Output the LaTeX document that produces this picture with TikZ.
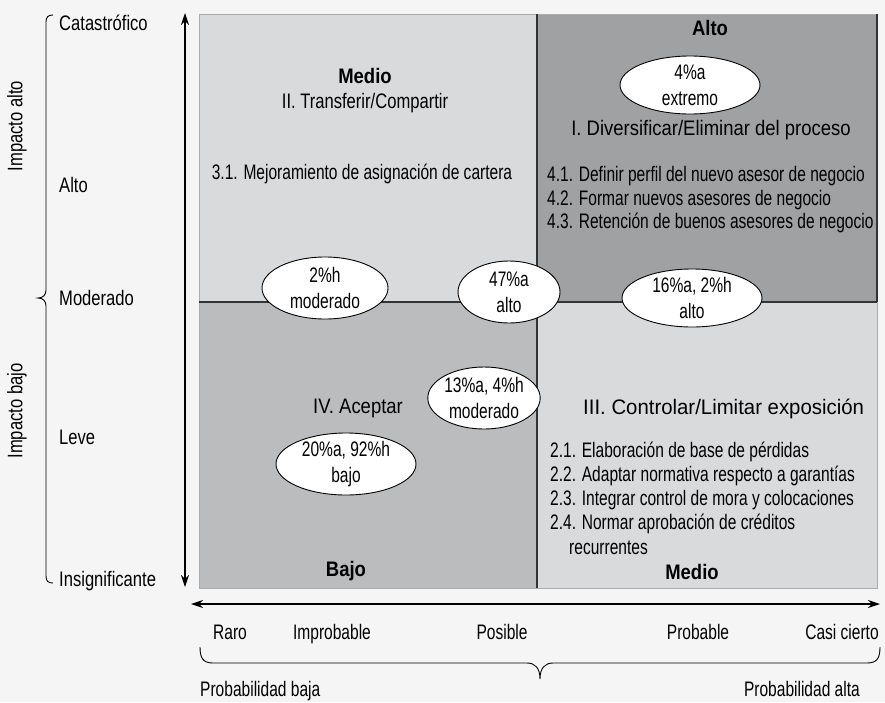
\documentclass[tikz,border=0pt]{standalone}
\usepackage{fontspec}
\setmainfont{Liberation Sans}[FakeStretch=0.76]
\newfontfamily\narrowf{Liberation Sans}[FakeStretch=0.74]
\newfontfamily\midf{Liberation Sans}[FakeStretch=0.79]
\newfontfamily\semif{Liberation Sans}[FakeStretch=0.88]
\newfontfamily\widef{Liberation Sans}[FakeStretch=0.97]
\usetikzlibrary{arrows.meta,shapes.geometric}
\definecolor{bgc}{HTML}{F5F5F5}
\definecolor{qlight}{HTML}{D9DADC}
\definecolor{qdark}{HTML}{A0A1A3}
\definecolor{qmid}{HTML}{BBBCBE}
\definecolor{linec}{HTML}{333333}
\begin{document}
\begin{tikzpicture}[x=1pt,y=-1pt,
  txt/.style={font=\narrowf\fontsize{21}{24}\selectfont, inner sep=0pt},
  lbl/.style={font=\midf\fontsize{21}{24}\selectfont, inner sep=0pt},
  semitxt/.style={font=\semif\fontsize{21}{24}\selectfont, inner sep=0pt},
  widetxt/.style={font=\widef\fontsize{21}{24}\selectfont, inner sep=0pt},
  boldtxt/.style={font=\semif\bfseries\fontsize{21}{24}\selectfont, inner sep=0pt},
  oval/.style={ellipse, draw=black, line width=0.9pt, fill=white, minimum width=#1,
    minimum height=62pt, inner xsep=0pt, inner ysep=-8pt, align=center,
    font=\narrowf\fontsize{21}{26}\selectfont},
  axisarrow/.style={line width=1.2pt, {Stealth[length=12pt,width=8pt]}-{Stealth[length=12pt,width=8pt]}},
  bracec/.style={line width=0.9pt, black}
]
\useasboundingbox (0,0) rectangle (885,702);
\fill[bgc] (0,0) rectangle (885,702);

% quadrants
\fill[qlight] (199,14) rectangle (537,302);
\fill[qdark] (537,14) rectangle (877,302);
\fill[qmid] (199,302) rectangle (537,588);
\fill[qlight] (537,302) rectangle (877,588);
\draw[gray!65, line width=0.8pt] (199,14) rectangle (877,588);
\draw[linec, line width=1.2pt] (877,14) -- (877,302);
\draw[linec, line width=1.2pt] (199,302) -- (877,302);
\draw[linec, line width=1.2pt] (537,14) -- (537,588);

% axes
\coordinate (ytop) at (185,13);
\coordinate (ybot) at (185,587);
\draw[axisarrow] (ybot) -- (ytop);
\coordinate (xl) at (191,604);
\coordinate (xr) at (880,604);
\draw[axisarrow] (xl) -- (xr);

% left scale labels
\node[lbl, anchor=base west] (cat) at (59,30) {Catastrófico};
\node[lbl, anchor=base west] (alt) at (59,192) {Alto};
\node[lbl, anchor=base west] (mod) at (59,305) {Moderado};
\node[lbl, anchor=base west] (lev) at (59,444) {Leve};
\node[lbl, anchor=base west] (ins) at (59,586) {Insignificante};
\node[lbl, rotate=90] (ia) at (17,126) {Impacto alto};
\node[lbl, rotate=90] (ib) at (17,411) {Impacto bajo};

% left brace
\draw[bracec] (53,15) .. controls (48,15) and (46,17) .. (46,22) -- (46,290)
  .. controls (46,295) and (43,298) .. (38,298)
  .. controls (43,298) and (46,301) .. (46,306) -- (46,576)
  .. controls (46,581) and (48,583) .. (53,583);

% bottom scale labels
\node[txt, anchor=base] (raro) at (230,639) {Raro};
\node[txt, anchor=base] (impr) at (332,639) {Improbable};
\node[txt, anchor=base] (posi) at (502,639) {Posible};
\node[txt, anchor=base] (prob) at (698,639) {Probable};
\node[txt, anchor=base] (casi) at (842,639) {Casi cierto};
\node[txt, anchor=base west] (pb) at (200,696) {Probabilidad baja};
\node[txt, anchor=base east] (pa) at (860,696) {Probabilidad alta};

% bottom brace
\draw[bracec] (200,647) .. controls (200,658) and (203,663) .. (213,663) -- (527,663)
  .. controls (535,663) and (540,668) .. (540,679)
  .. controls (540,668) and (545,663) .. (553,663) -- (867,663)
  .. controls (877,663) and (880,658) .. (880,647);

% top-left quadrant
\node[boldtxt] (q1t) at (365,76) {Medio};
\node[lbl] (q1s) at (365,103) {II. Transferir/Compartir};
\node[txt] (q1a) at (362,174) {3.1. Mejoramiento de asignación de cartera};

% top-right quadrant
\node[boldtxt] (q2t) at (710,28) {Alto};
\node[oval=140pt, minimum height=58pt] (e1) at (690,85) {4\%a\\extremo};
\node[semitxt] (q2s) at (711,130) {I. Diversificar/Eliminar del proceso};
\node[txt, anchor=west] (q2a) at (547,176) {4.1. Definir perfil del nuevo asesor de negocio};
\node[txt, anchor=west] (q2b) at (547,200) {4.2. Formar nuevos asesores de negocio};
\node[txt, anchor=west] (q2c) at (547,223) {4.3. Retención de buenos asesores de negocio};

% ellipses on divider
\node[oval=126pt] (e2) at (325,288) {2\%h\\moderado};
\node[oval=102pt] (e3) at (509,292) {47\%a\\alto};
\node[oval=140pt, minimum height=58pt] (e4) at (692,298) {16\%a, 2\%h\\alto};
\node[oval=106pt] (e5) at (484,398) {13\%a, 4\%h\\moderado};

% bottom-left quadrant
\node[semitxt] (q3s) at (358,408) {IV. Aceptar};
\node[oval=140pt] (e6) at (346,464) {20\%a, 92\%h\\bajo};
\node[boldtxt] (q3t) at (346,571) {Bajo};

% bottom-right quadrant
\node[widetxt, anchor=west] (q4s) at (583,409) {III. Controlar/Limitar exposición};
\node[txt, anchor=west] (q4a) at (550,452) {2.1. Elaboración de base de pérdidas};
\node[txt, anchor=west] (q4b) at (550,476) {2.2. Adaptar normativa respecto a garantías};
\node[txt, anchor=west] (q4c) at (550,500) {2.3. Integrar control de mora y colocaciones};
\node[txt, anchor=west] (q4d) at (550,524) {2.4. Normar aprobación de créditos};
\node[txt, anchor=west] (q4e) at (569,548) {recurrentes};
\node[boldtxt] (q4t) at (692,572) {Medio};
\end{tikzpicture}
\end{document}
